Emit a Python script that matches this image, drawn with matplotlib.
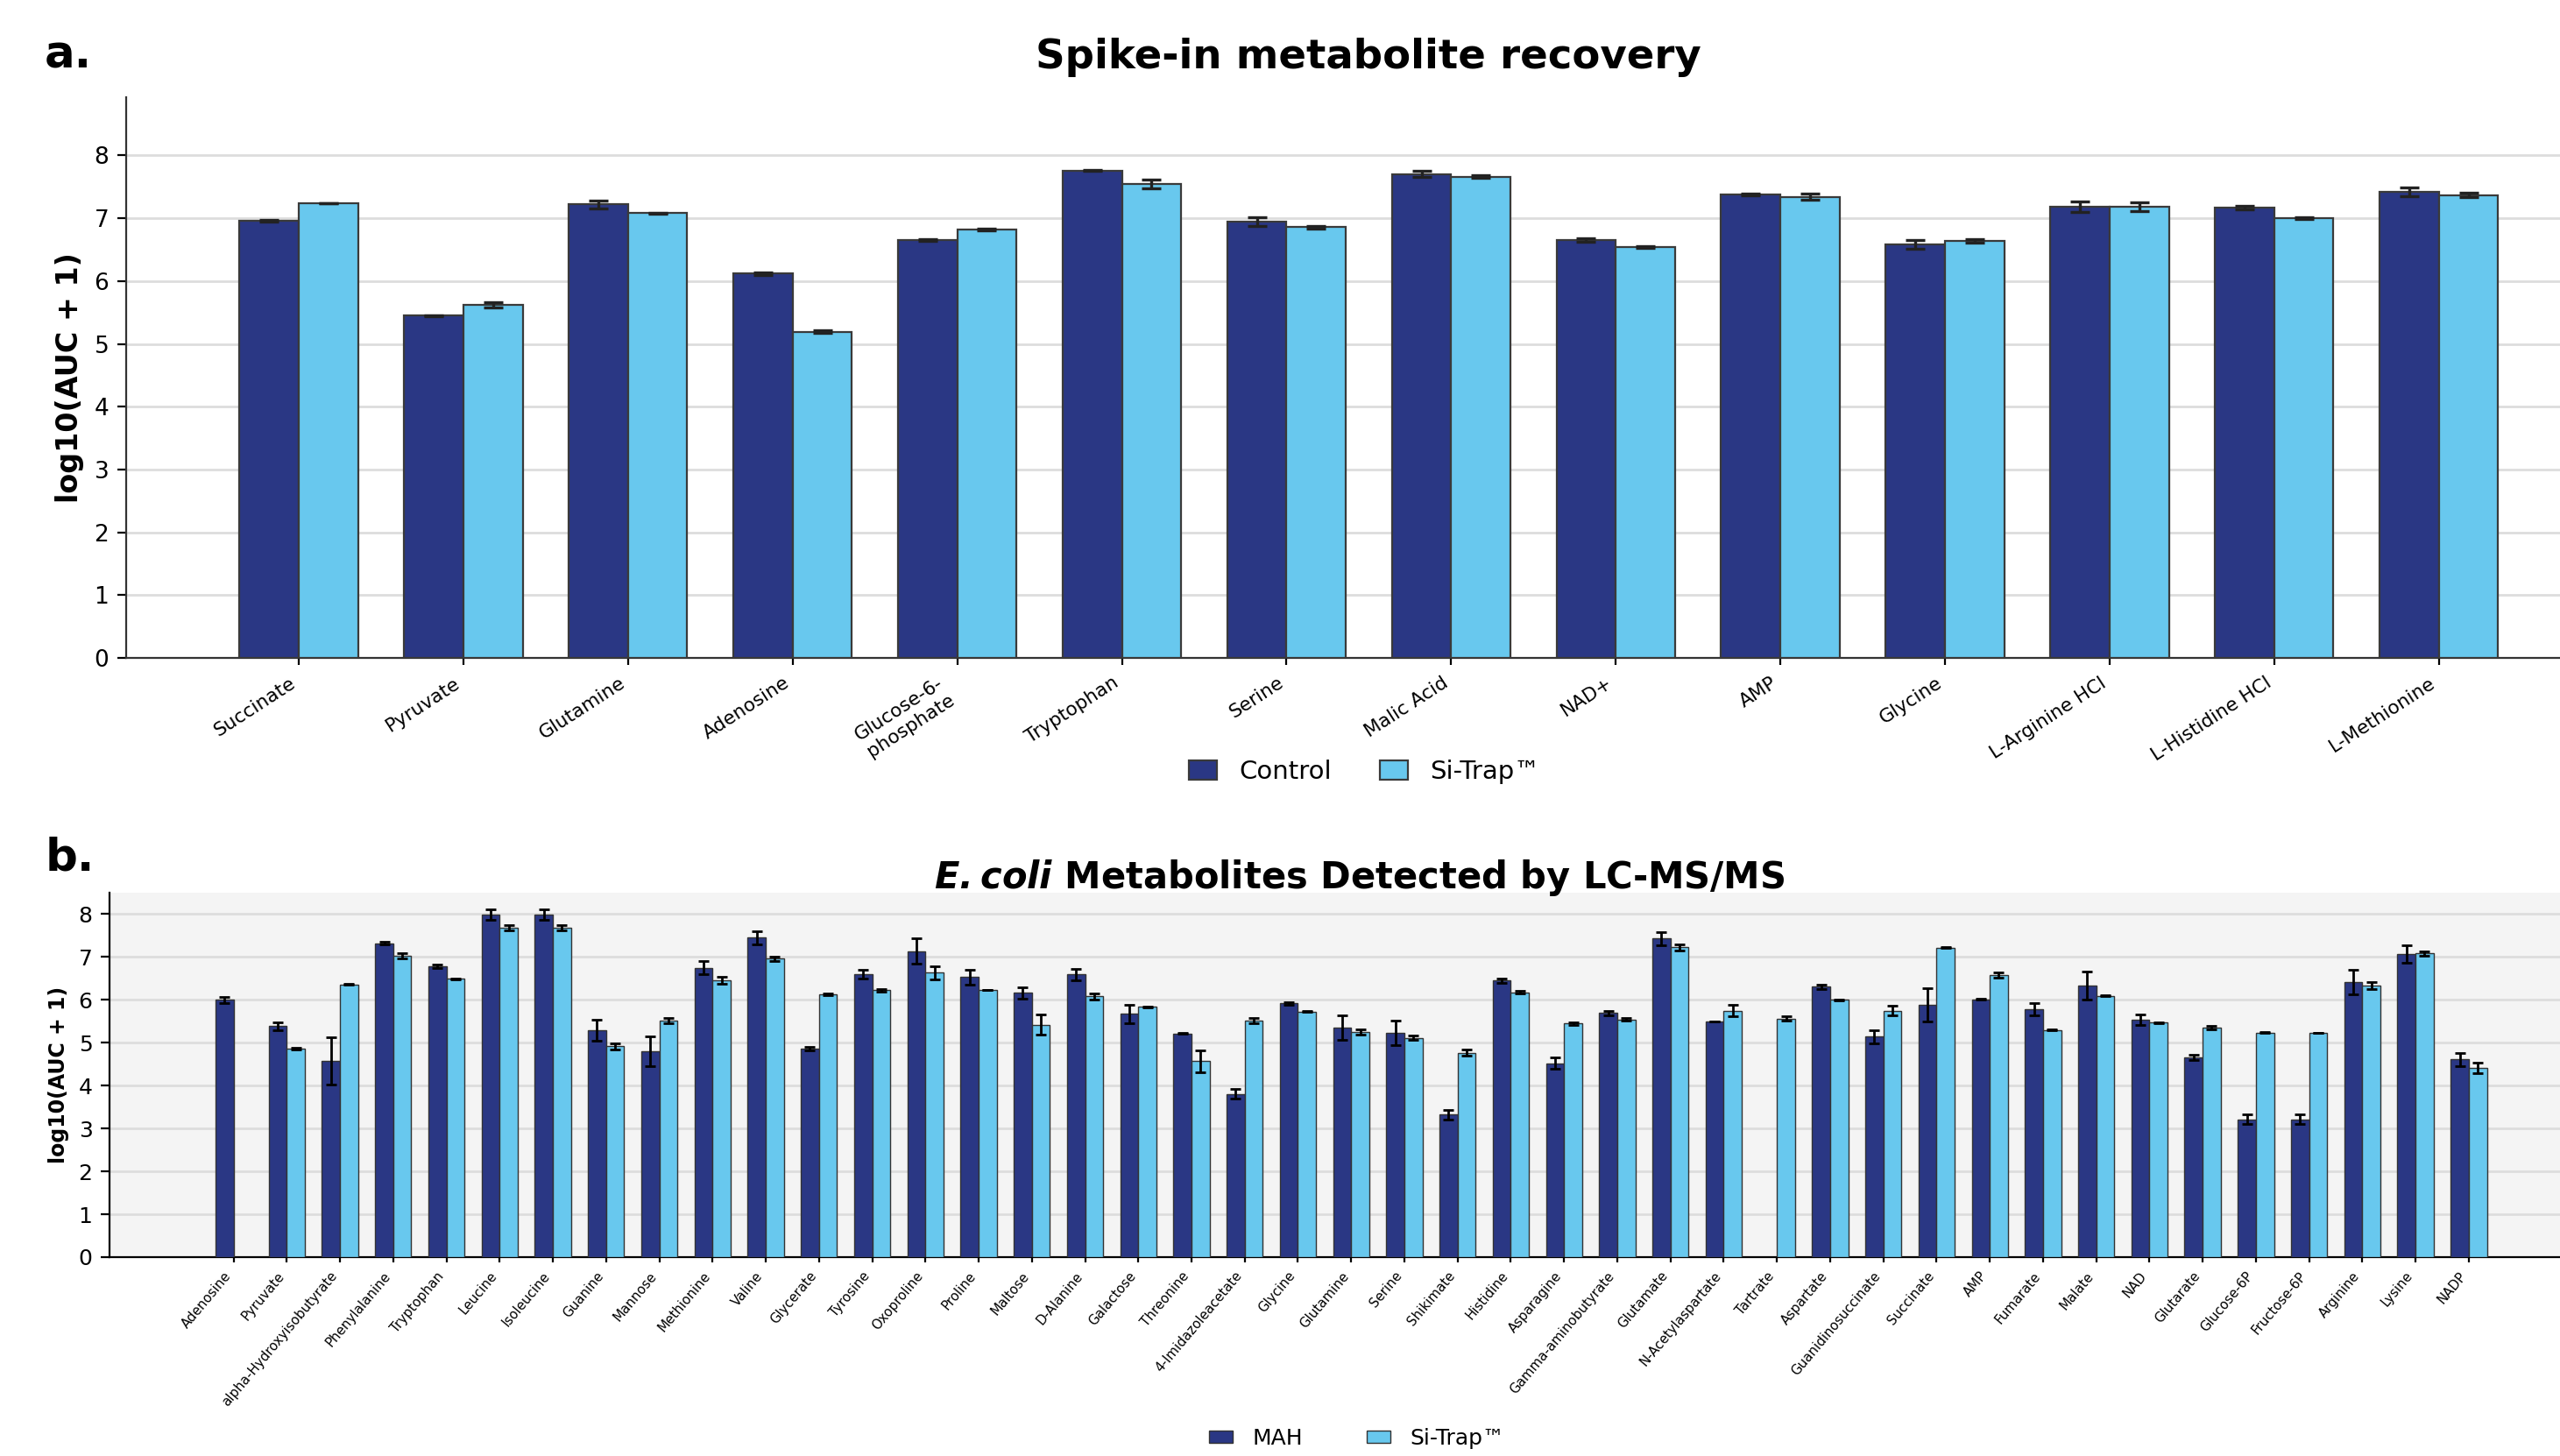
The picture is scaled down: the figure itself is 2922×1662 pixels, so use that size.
import numpy as np
import matplotlib
matplotlib.use("Agg")
import matplotlib.pyplot as plt

# --- panel a: spike-in recovery ---
spike_names = ["Succinate", "Pyruvate", "Glutamine", "Adenosine", "Glucose-6-\nphosphate",
               "Tryptophan", "Serine", "Malic Acid", "NAD+", "AMP", "Glycine",
               "L-Arginine HCl", "L-Histidine HCl", "L-Methionine"]
control_mean = [6.96, 5.45, 7.22, 6.12, 6.65, 7.76, 6.94, 7.70, 6.65, 7.38, 6.58, 7.18, 7.17, 7.42]
control_err = [0.01, 0.01, 0.06, 0.02, 0.01, 0.005, 0.07, 0.05, 0.03, 0.01, 0.07, 0.08, 0.03, 0.07]
sitrap_mean = [7.24, 5.62, 7.08, 5.19, 6.82, 7.55, 6.86, 7.66, 6.54, 7.34, 6.64, 7.18, 7.00, 7.37]
sitrap_err = [0.005, 0.04, 0.005, 0.02, 0.02, 0.07, 0.02, 0.02, 0.01, 0.05, 0.03, 0.07, 0.01, 0.04]

# --- panel b: E. coli metabolites ---
ecoli_names = ["Adenosine", "Pyruvate", "alpha-Hydroxyisobutyrate", "Phenylalanine", "Tryptophan",
               "Leucine", "Isoleucine", "Guanine", "Mannose", "Methionine", "Valine", "Glycerate",
               "Tyrosine", "Oxoproline", "Proline", "Maltose", "D-Alanine", "Galactose", "Threonine",
               "4-Imidazoleacetate", "Glycine", "Glutamine", "Serine", "Shikimate", "Histidine",
               "Asparagine", "Gamma-aminobutyrate", "Glutamate", "N-Acetylaspartate", "Tartrate",
               "Aspartate", "Guanidinosuccinate", "Succinate", "AMP", "Fumarate", "Malate", "NAD",
               "Glutarate", "Glucose-6P", "Fructose-6P", "Arginine", "Lysine", "NADP"]
mah_mean = [6.00, 5.39, 4.58, 7.32, 6.78, 7.99, 7.99, 5.29, 4.80, 6.75, 7.45, 4.87,
            6.60, 7.14, 6.53, 6.16, 6.59, 5.67, 5.21, 3.81, 5.92, 5.35, 5.23, 3.32, 6.45,
            4.52, 5.69, 7.43, 5.50, np.nan, 6.31, 5.14, 5.89, 6.01, 5.78, 6.34, 5.53,
            4.66, 3.21, 3.21, 6.42, 7.07, 4.61]
mah_err = [0.07, 0.09, 0.55, 0.03, 0.04, 0.12, 0.12, 0.24, 0.35, 0.16, 0.15, 0.04,
           0.10, 0.30, 0.18, 0.13, 0.14, 0.21, 0.01, 0.12, 0.03, 0.28, 0.29, 0.12, 0.05,
           0.13, 0.05, 0.15, 0.005, np.nan, 0.05, 0.15, 0.39, 0.01, 0.15, 0.33, 0.12,
           0.06, 0.11, 0.11, 0.29, 0.21, 0.16]
sit_mean = [np.nan, 4.86, 6.36, 7.02, 6.49, 7.68, 7.68, 4.92, 5.51, 6.46, 6.96, 6.12,
            6.23, 6.63, 6.23, 5.42, 6.08, 5.84, 4.57, 5.51, 5.73, 5.25, 5.11, 4.77, 6.18,
            5.45, 5.54, 7.23, 5.75, 5.56, 6.00, 5.75, 7.22, 6.58, 5.30, 6.09, 5.47,
            5.35, 5.24, 5.23, 6.34, 7.08, 4.42]
sit_err = [np.nan, 0.02, 0.01, 0.06, 0.01, 0.06, 0.06, 0.07, 0.06, 0.08, 0.05, 0.02,
           0.03, 0.15, 0.005, 0.23, 0.07, 0.01, 0.26, 0.06, 0.01, 0.07, 0.05, 0.08, 0.03,
           0.03, 0.03, 0.07, 0.13, 0.05, 0.01, 0.12, 0.01, 0.06, 0.01, 0.01, 0.01,
           0.04, 0.01, 0.01, 0.08, 0.06, 0.12]

dark = "#2a3784"
light = "#68c8ee"

fig = plt.figure(figsize=(14.61, 8.31), dpi=200)

# ----- panel a -----
ax1 = fig.add_axes([0.0492, 0.548, 0.971, 0.385])
x = np.arange(len(spike_names))
w = 0.36
ax1.bar(x - w / 2, control_mean, w, yerr=control_err, color=dark, edgecolor="#3a3a3a",
        linewidth=0.8, capsize=4, error_kw=dict(elinewidth=1.2, capthick=1.2, ecolor="#222222"),
        label="Control", zorder=3)
ax1.bar(x + w / 2, sitrap_mean, w, yerr=sitrap_err, color=light, edgecolor="#3a3a3a",
        linewidth=0.8, capsize=4, error_kw=dict(elinewidth=1.2, capthick=1.2, ecolor="#222222"),
        label="Si-Trap™", zorder=3)
ax1.set_xlim(-1.05, 14.05)
ax1.set_ylim(0, 8.92)
ax1.set_xticks(x)
ax1.set_xticklabels(spike_names, rotation=33, ha="right", fontsize=7.8)
ax1.tick_params(axis="y", labelsize=9.5)
ax1.tick_params(axis="x", length=3)
ax1.set_ylabel("log10(AUC + 1)", fontsize=12, fontweight="bold")
ax1.yaxis.grid(True, color="#dddddd", linewidth=1, zorder=0)
ax1.set_axisbelow(True)
for s in ["top", "right"]:
    ax1.spines[s].set_visible(False)
for s in ["left", "bottom"]:
    ax1.spines[s].set_color("#333333")
ax1.legend(loc="center", bbox_to_anchor=(0.533, 0.470), bbox_transform=fig.transFigure,
           ncol=2, frameon=False, fontsize=10.5, columnspacing=1.9,
           handlelength=1.1, handleheight=0.8, handletextpad=0.85)
fig.text(0.5346, 0.953, "Spike-in metabolite recovery", fontsize=16.8, fontweight="bold",
         ha="center", va="baseline")

# ----- panel b -----
ax2 = fig.add_axes([0.0428, 0.1366, 0.970, 0.2503])
xb = np.arange(len(ecoli_names))
wb = 0.34
ax2.bar(xb - wb / 2, mah_mean, wb, yerr=mah_err, color=dark, edgecolor="#333333",
        linewidth=0.5, capsize=2, error_kw=dict(elinewidth=1, capthick=1, ecolor="black"),
        label="MAH", zorder=3)
ax2.bar(xb + wb / 2, sit_mean, wb, yerr=sit_err, color=light, edgecolor="#333333",
        linewidth=0.5, capsize=2, error_kw=dict(elinewidth=1, capthick=1, ecolor="black"),
        label="Si-Trap™", zorder=3)
ax2.set_facecolor("#f4f4f4")
ax2.set_xlim(-2.33, 44.33)
ax2.set_ylim(0, 8.5)
ax2.set_yticks(np.arange(0, 9))
ax2.set_xticks(xb)
ax2.set_xticklabels(ecoli_names, rotation=50, ha="right", fontsize=5.4)
ax2.tick_params(axis="x", length=2, pad=3)
ax2.tick_params(axis="y", labelsize=9)
ax2.set_ylabel("log10(AUC + 1)", fontsize=8.5, fontweight="bold")
ax2.yaxis.grid(True, color="#dddddd", linewidth=1, zorder=0)
ax2.set_axisbelow(True)
for s in ["top", "right"]:
    ax2.spines[s].set_visible(False)
ax2.legend(loc="center", bbox_to_anchor=(0.530, 0.012), bbox_transform=fig.transFigure,
           ncol=2, frameon=False, fontsize=9, columnspacing=2.9,
           handlelength=1.1, handleheight=0.45, handletextpad=0.9)
fig.text(0.531, 0.390, r"$\bfit{E. coli}$ Metabolites Detected by LC-MS/MS", fontsize=15,
         fontweight="bold", ha="center", va="baseline")

fig.text(0.0175, 0.9534, "a.", fontsize=18.5, fontweight="bold", va="baseline")
fig.text(0.0175, 0.402, "b.", fontsize=18.5, fontweight="bold", va="baseline")

fig.savefig("out.png", dpi=200)
